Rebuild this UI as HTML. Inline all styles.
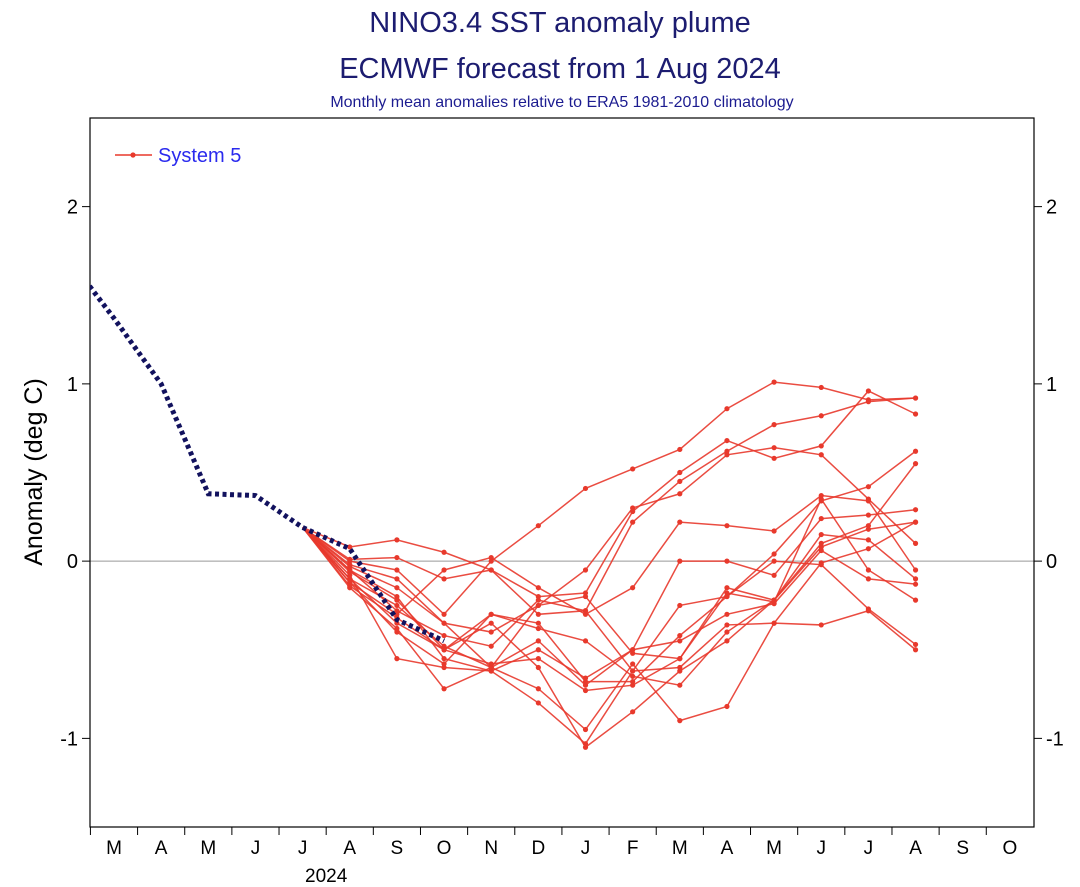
<!DOCTYPE html>
<html><head><meta charset="utf-8"><style>
html,body{margin:0;padding:0;background:#fff;}
svg{display:block;font-family:"Liberation Sans",sans-serif;}
</style></head><body>
<svg id="chart" width="1080" height="887" viewBox="0 0 1080 887">
<text x="560" y="32" text-anchor="middle" font-size="29" fill="#1c1c70">NINO3.4 SST anomaly plume</text>
<text x="560" y="78" text-anchor="middle" font-size="29" fill="#1c1c70">ECMWF forecast from 1 Aug 2024</text>
<text x="562" y="107" text-anchor="middle" font-size="16" fill="#1c1c90">Monthly mean anomalies relative to ERA5 1981-2010 climatology</text>
<text transform="translate(42,472) rotate(-90)" text-anchor="middle" font-size="25" fill="#000">Anomaly (deg C)</text>
<g id="plot"></g>
</svg>
<script>
const months=['M','A','M','J','J','A','S','O','N','D','J','F','M','A','M','J','J','A','S','O'];
const yTicks=[-1,0,1,2];
const obsValues=[1.72,1.37,1.0,0.38,0.37,0.19,0.07,-0.33,-0.45];
const obsStart=-1; // Feb index
const memberStart=4; // July index (start value)
const members=[
[0.19,0.0,-0.05,-0.3,0.0,0.2,0.41,0.52,0.63,0.86,1.01,0.98,0.91,0.92],
[0.19,0.08,0.12,0.05,-0.05,-0.2,-0.18,0.28,0.5,0.68,0.58,0.65,0.96,0.83],
[0.19,0.01,0.02,-0.1,-0.05,-0.3,-0.28,0.22,0.45,0.62,0.77,0.82,0.90,0.92],
[0.19,-0.02,-0.1,-0.35,-0.6,-0.25,-0.05,0.3,0.38,0.6,0.64,0.6,0.35,0.10],
[0.19,-0.05,-0.2,-0.55,-0.62,-0.8,-1.03,-0.62,-0.25,-0.2,0.04,0.34,0.42,0.62],
[0.19,-0.1,-0.35,-0.5,-0.35,-0.6,-1.05,-0.85,-0.62,-0.45,-0.22,0.1,0.2,0.55],
[0.19,-0.12,-0.3,-0.05,0.02,-0.15,-0.3,-0.15,0.22,0.2,0.17,0.37,0.34,-0.05],
[0.19,-0.08,-0.55,-0.6,-0.62,-0.5,-0.66,-0.5,0.0,0.0,-0.08,0.24,0.26,0.29],
[0.19,-0.15,-0.38,-0.72,-0.6,-0.72,-0.95,-0.58,-0.9,-0.82,-0.35,-0.01,0.07,0.22],
[0.19,-0.06,-0.22,-0.5,-0.3,-0.38,-0.45,-0.65,-0.7,-0.4,-0.22,0.08,0.18,0.22],
[0.19,-0.1,-0.25,-0.48,-0.6,-0.45,-0.7,-0.5,-0.45,-0.3,-0.24,0.06,-0.1,-0.13],
[0.19,-0.03,-0.15,-0.35,-0.4,-0.25,-0.2,-0.52,-0.55,-0.18,-0.23,0.35,-0.05,-0.22],
[0.19,-0.12,-0.4,-0.58,-0.3,-0.35,-0.68,-0.68,-0.42,-0.2,0.0,-0.02,-0.27,-0.47],
[0.19,-0.05,-0.28,-0.42,-0.48,-0.22,-0.28,-0.62,-0.6,-0.36,-0.35,-0.36,-0.28,-0.5],
[0.19,-0.14,-0.32,-0.5,-0.58,-0.55,-0.73,-0.7,-0.55,-0.15,-0.22,0.15,0.12,-0.1]
];
const NS='http://www.w3.org/2000/svg';
const L=90,R=1034,T=118,B=827,yMin=-1.5,yMax=2.5,x0=114,dx=47.15;
const xs=i=>x0+dx*i;
const ys=v=>B-(v-yMin)/(yMax-yMin)*(B-T);
const g=document.getElementById('plot');
function mk(tag,attrs){const e=document.createElementNS(NS,tag);for(const k in attrs)e.setAttribute(k,attrs[k]);g.appendChild(e);return e;}
const defs=mk('defs',{});const cp=document.createElementNS(NS,'clipPath');cp.setAttribute('id','clip');
const cr=document.createElementNS(NS,'rect');cr.setAttribute('x',L);cr.setAttribute('y',T);cr.setAttribute('width',R-L);cr.setAttribute('height',B-T);cp.appendChild(cr);defs.appendChild(cp);
let z=mk('line',{x1:L,x2:R,y1:ys(0),y2:ys(0),stroke:'#999','stroke-width':1});


let fr=mk('rect',{x:L,y:T,width:R-L,height:B-T,fill:'none',stroke:'#000','stroke-width':1.2});


yTicks.forEach(v=>{
 mk('line',{x1:L-8,x2:L,y1:ys(v),y2:ys(v),stroke:'#000'});
 mk('line',{x1:R,x2:R+8,y1:ys(v),y2:ys(v),stroke:'#000'});
 let t=mk('text',{x:L-12,y:ys(v)+7,'text-anchor':'end','font-size':20});t.textContent=v;
 
 
 let t2=mk('text',{x:R+12,y:ys(v)+7,'text-anchor':'start','font-size':20});t2.textContent=v;
 
 
});
months.forEach((m,i)=>{
 const bx=xs(i)-dx/2;
 mk('line',{x1:bx,x2:bx,y1:B,y2:B+8,stroke:'#000'});
 let t=mk('text',{x:xs(i),y:B+27,'text-anchor':'middle','font-size':19});t.textContent=m;
 
 
});
let yr=mk('text',{x:(xs(4)+xs(5))/2,y:B+55,'text-anchor':'middle','font-size':19});yr.textContent='2024';


members.forEach((vals,k)=>{
 const pts=vals.map((v,i)=>xs(memberStart+i)+','+ys(v)).join(' ');
 let pl=mk('polyline',{points:pts,fill:'none',stroke:'#e8392c','stroke-width':1.5,'stroke-opacity':0.9,'clip-path':'url(#clip)'});
 
 
 vals.forEach((v,i)=>{ if(i===0)return;
  let c=mk('circle',{cx:xs(memberStart+i),cy:ys(v),r:2.6,fill:'#e8392c'});
  
  
 });
});
const op=obsValues.map((v,i)=>xs(obsStart+i)+','+ys(v)).join(' ');
let ob=mk('polyline',{points:op,fill:'none',stroke:'#12125e','stroke-width':5,'stroke-dasharray':'4 3.5','clip-path':'url(#clip)'});


let ll=mk('line',{x1:115,x2:152,y1:155,y2:155,stroke:'#e8392c','stroke-width':1.5});


mk('circle',{cx:133,cy:155,r:2.6,fill:'#e8392c'});
let lt=mk('text',{x:158,y:162,'font-size':20,fill:'#2a2aee'});lt.textContent='System 5';


</script>
</body></html>
